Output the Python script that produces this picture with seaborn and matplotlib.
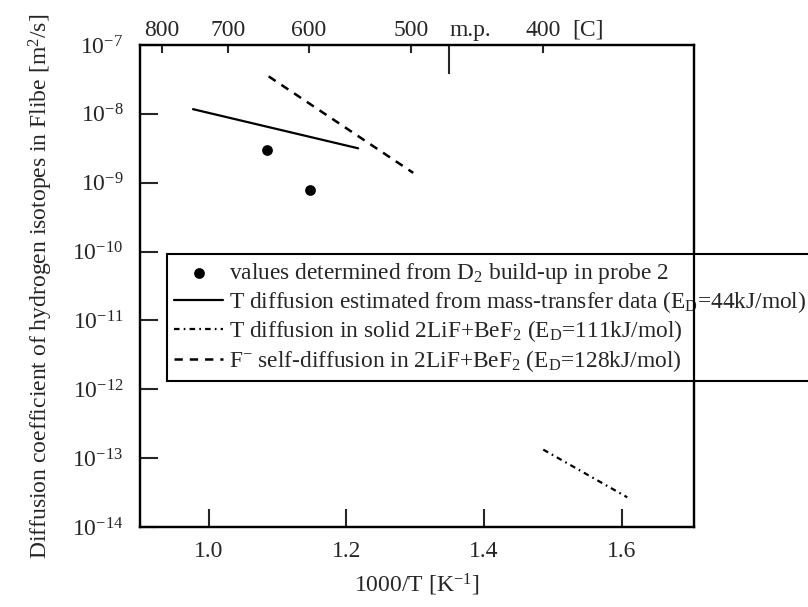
import numpy as np
import pandas as pd
import matplotlib
matplotlib.use("Agg")
import matplotlib.pyplot as plt
import seaborn as sns
from matplotlib.ticker import NullLocator, LogFormatterSciNotation

# ---------------- data ----------------
probe_x = [1.085, 1.147]
probe_y = [3.0e-9, 7.8e-10]

masstransfer_x = [0.977, 1.217]
masstransfer_y = [1.17e-8, 3.16e-9]

solid_x = [1.486, 1.608]
solid_y = [1.33e-13, 2.7e-14]

fself_x = [1.087, 1.297]
fself_y = [3.5e-8, 1.39e-9]

x_ticks = [1.0, 1.2, 1.4, 1.6]
x_tick_labels = ["1.0", "1.2", "1.4", "1.6"]
y_ticks = [1e-14, 1e-13, 1e-12, 1e-11, 1e-10, 1e-9, 1e-8, 1e-7]
top_temps_c = [800, 700, 600, 500, 400]
top_tick_labels = ["800", "700", "600", "500", "400"]
mp_x = 1.349
mp_label = "m.p."

legend_labels = [
    r"values determined from D$_2$ build-up in probe 2",
    r"T diffusion estimated from mass-transfer data (E$_\mathrm{D}$=44kJ/mol)",
    r"T diffusion in solid 2LiF+BeF$_2$ (E$_\mathrm{D}$=111kJ/mol)",
    r"F$^{-}$ self-diffusion in 2LiF+BeF$_2$ (E$_\mathrm{D}$=128kJ/mol)",
]

# ---------------- style ----------------
sns.set_style("ticks")
plt.rcParams["font.family"] = ["Liberation Serif", "DejaVu Serif"]
plt.rcParams["mathtext.fontset"] = "custom"
plt.rcParams["mathtext.rm"] = "Liberation Serif"
plt.rcParams["mathtext.it"] = "Liberation Serif:italic"
plt.rcParams["mathtext.bf"] = "Liberation Serif:bold"
plt.rcParams["lines.scale_dashes"] = False
FS = 17

fig = plt.figure(figsize=(8.08, 6.07), dpi=100)
fig.subplots_adjust(left=140 / 808, right=694 / 808, top=1 - 45 / 607, bottom=1 - 527 / 607)
ax = fig.add_subplot(111)

df_probe = pd.DataFrame({"x": probe_x, "y": probe_y})
df_mt = pd.DataFrame({"x": masstransfer_x, "y": masstransfer_y})
df_solid = pd.DataFrame({"x": solid_x, "y": solid_y})
df_f = pd.DataFrame({"x": fself_x, "y": fself_y})

sns.scatterplot(data=df_probe, x="x", y="y", ax=ax, color="black", s=60,
                edgecolor="black", linewidth=0, legend=False, zorder=3)
sns.lineplot(data=df_mt, x="x", y="y", ax=ax, color="black", lw=1.6, legend=False)
sns.lineplot(data=df_solid, x="x", y="y", ax=ax, color="black", lw=1.6, legend=False,
             linestyle=(0, (4, 3, 1.2, 3)))
sns.lineplot(data=df_f, x="x", y="y", ax=ax, color="black", lw=1.8, legend=False,
             linestyle=(0, (6, 5)))

ax.set_yscale("log")
ax.set_xlim(0.9, 1.705)
ax.set_ylim(1e-14, 1e-7)
ax.set_yticks(y_ticks)
ax.yaxis.set_major_formatter(LogFormatterSciNotation())
ax.yaxis.set_minor_locator(NullLocator())
ax.set_xticks(x_ticks, x_tick_labels)
ax.tick_params(axis="both", which="major", direction="in", length=13, width=1.5,
               labelsize=FS, top=False, right=False)
ax.tick_params(axis="x", pad=10)
ax.tick_params(axis="y", pad=12)
for sp in ax.spines.values():
    sp.set_linewidth(1.6)
    sp.set_color("black")

ax.set_xlabel(r"1000/T [K$^{-1}$]", fontsize=FS, labelpad=7)
ax.set_ylabel(r"Diffusion coefficient of hydrogen isotopes in Flibe [m$^2$/s]",
              fontsize=FS, labelpad=12)

# top temperature axis
ax2 = ax.twiny()
ax2.set_xlim(ax.get_xlim())
top_pos = [1000.0 / (t + 273.15) for t in top_temps_c]
ax2.set_xticks(top_pos, top_tick_labels)
ax2.set_xticks([mp_x], [mp_label], minor=True)
ax2.tick_params(axis="x", which="major", direction="in", length=6, width=1.5,
                labelsize=FS, pad=3)
ax2.tick_params(axis="x", which="minor", direction="in", length=21, width=1.5,
                labelsize=FS, pad=3)
for t in ax2.xaxis.get_minor_ticks():
    t.label2.set_horizontalalignment("left")
for sp in ax2.spines.values():
    sp.set_linewidth(1.6)
    sp.set_color("black")
ax2.annotate("[C]", xy=(top_pos[-1], 1.0), xycoords=("data", "axes fraction"),
             xytext=(21, 3), textcoords="offset points", ha="left", va="bottom",
             fontsize=FS)

# legend
handles = [ax.collections[0]] + list(ax.get_lines()[:3])
leg = ax.legend(handles, legend_labels, loc="upper left",
                bbox_to_anchor=(167 / 808, 1 - 254 / 607), bbox_transform=fig.transFigure,
                frameon=True, fancybox=False, edgecolor="black", framealpha=1,
                borderaxespad=0, borderpad=0.3, labelspacing=0.14, handlelength=2.1,
                handletextpad=0.25, fontsize=16.85)
leg.get_frame().set_linewidth(1.5)

fig.savefig("out.png", dpi=100)
